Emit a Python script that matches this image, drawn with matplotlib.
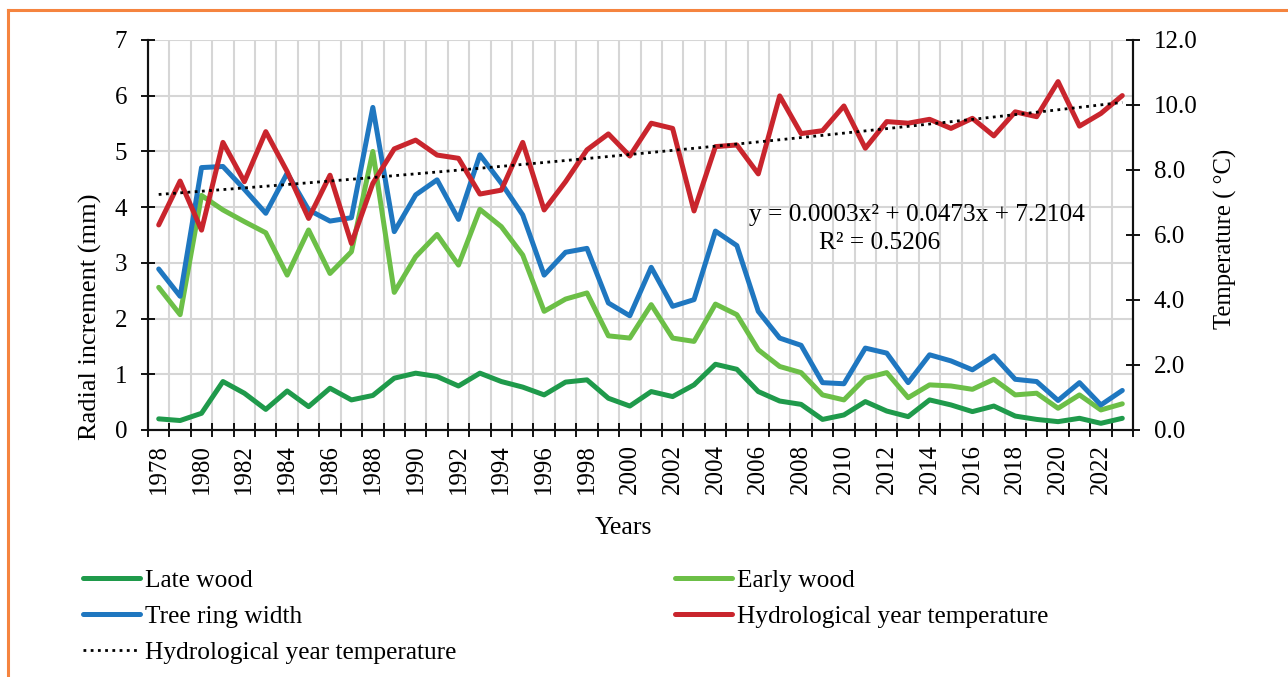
import numpy as np
import matplotlib.pyplot as plt
from matplotlib.lines import Line2D

plt.rcParams['font.family'] = ['Liberation Serif', 'DejaVu Serif']

# data
years = list(range(1978, 2024))
late_wood = [0.20, 0.17, 0.30, 0.87, 0.66, 0.37, 0.70, 0.42, 0.75, 0.54, 0.62, 0.93, 1.02, 0.96, 0.79, 1.02,
             0.87, 0.77, 0.63, 0.86, 0.90, 0.57, 0.43, 0.69, 0.60, 0.81, 1.18, 1.09, 0.69, 0.52, 0.46,
             0.19, 0.27, 0.51, 0.34, 0.24, 0.54, 0.45, 0.33, 0.43, 0.25, 0.19, 0.15, 0.21, 0.12, 0.21]
early_wood = [2.56, 2.07, 4.21, 3.95, 3.74, 3.54, 2.78, 3.59, 2.81, 3.20, 5.00, 2.47, 3.11, 3.51, 2.96, 3.96,
              3.65, 3.14, 2.13, 2.35, 2.46, 1.69, 1.65, 2.25, 1.65, 1.59, 2.26, 2.07, 1.44, 1.14, 1.03,
              0.63, 0.54, 0.93, 1.03, 0.58, 0.81, 0.79, 0.73, 0.91, 0.63, 0.66, 0.39, 0.63, 0.36, 0.47]
ring_width = [2.89, 2.40, 4.71, 4.73, 4.32, 3.89, 4.61, 3.95, 3.75, 3.81, 5.79, 3.56, 4.22, 4.49, 3.78, 4.94,
              4.43, 3.86, 2.78, 3.19, 3.26, 2.28, 2.05, 2.92, 2.22, 2.34, 3.57, 3.31, 2.13, 1.65, 1.52,
              0.85, 0.83, 1.47, 1.38, 0.85, 1.35, 1.24, 1.08, 1.33, 0.91, 0.87, 0.53, 0.85, 0.45, 0.71]
temperature = [6.31, 7.66, 6.15, 8.85, 7.64, 9.18, 7.95, 6.51, 7.84, 5.74, 7.59, 8.65, 8.92, 8.46, 8.36, 7.26,
               7.38, 8.85, 6.77, 7.64, 8.62, 9.11, 8.43, 9.44, 9.28, 6.74, 8.72, 8.77, 7.88, 10.28, 9.12,
               9.21, 9.97, 8.67, 9.49, 9.44, 9.56, 9.28, 9.59, 9.05, 9.79, 9.64, 10.72, 9.35, 9.74, 10.29]

eq_text = 'y = 0.0003x\u00b2 + 0.0473x + 7.2104'
r2_text = 'R\u00b2 = 0.5206'

c_late = '#1f9a4b'
c_early = '#6cbf47'
c_ring = '#1f77c0'
c_temp = '#c9252d'

n = len(years)
xs = np.arange(n)

# 2nd order poly trend like excel (x = 1..n)
coef = np.polyfit(xs + 1, temperature, 2)
trend = np.polyval(coef, xs + 1)

fig = plt.figure(figsize=(12.88, 6.77), dpi=100)
ax = fig.add_axes([148/1288, 1 - 430/677, 985/1288, 390/677])
ax2 = ax.twinx()

lw = 3.6
ax.plot(xs, late_wood, color=c_late, lw=lw, solid_joinstyle='round', solid_capstyle='round')
ax.plot(xs, early_wood, color=c_early, lw=lw, solid_joinstyle='round', solid_capstyle='round')
ax.plot(xs, ring_width, color=c_ring, lw=lw, solid_joinstyle='round', solid_capstyle='round')
ax2.plot(xs, temperature, color=c_temp, lw=lw, solid_joinstyle='round', solid_capstyle='round')
ax2.plot(xs, trend, color='black', lw=2.0, ls=(0, (1, 1.6)))

ax.set_xlim(-0.5, n - 0.5)
ax.set_ylim(0, 7)
ax2.set_ylim(0, 12)

fs = 18

# category axis: ticks on boundaries, labels on centres
ax.set_xticks(np.arange(n + 1) - 0.5)
ax.set_xticklabels([])
ax.set_xticks(xs[::2], minor=True)
ax.set_xticklabels([str(y) for y in years[::2]], minor=True, rotation=90, fontsize=fs)
ax.tick_params(axis='x', which='major', direction='inout', length=10, width=1.3)
ax.tick_params(axis='x', which='minor', length=0, pad=10)

ax.set_yticks(range(0, 8))
ax.tick_params(axis='y', direction='inout', length=10, width=1.3, labelsize=fs, pad=10)
ax2.set_yticks(np.arange(0, 13, 2))
ax2.set_yticklabels(['%.1f' % v for v in np.arange(0, 13, 2)])
ax2.tick_params(axis='y', direction='inout', length=10, width=1.3, labelsize=fs, pad=10)

ax.grid(True, which='major', color='#d6d6d6', lw=1.5)
ax.set_axisbelow(True)

for a in (ax, ax2):
    a.spines['top'].set_visible(False)
    for s in ('left', 'right', 'bottom'):
        a.spines[s].set_linewidth(1.5)
        a.spines[s].set_color('#111111')

ax.set_ylabel('Radial increment (mm)', fontsize=19)
ax.yaxis.set_label_coords(-0.047, 0.29)
ax2.set_ylabel('Temperature ( \u00b0C)', fontsize=17.8)
ax2.yaxis.set_label_coords(1.082, 0.49)
ax.set_xlabel('Years', fontsize=18.5)
ax.xaxis.set_label_coords(0.483, -0.222)

ax.text(0.781, 0.551, eq_text, transform=ax.transAxes, ha='center', va='center', fontsize=18.3)
ax.text(0.743, 0.479, r2_text, transform=ax.transAxes, ha='center', va='center', fontsize=18.3)

# legend, two blocks like the excel layout
left_handles = [
    Line2D([], [], color=c_late, lw=lw, solid_capstyle='round'),
    Line2D([], [], color=c_ring, lw=lw, solid_capstyle='round'),
    Line2D([], [], color='black', lw=2.0, ls=(0, (1, 1.6))),
]
left_labels = ['Late wood', 'Tree ring width', 'Hydrological year temperature']
right_handles = [
    Line2D([], [], color=c_early, lw=lw, solid_capstyle='round'),
    Line2D([], [], color=c_temp, lw=lw, solid_capstyle='round'),
]
right_labels = ['Early wood', 'Hydrological year temperature']

leg_fs = 18.3
fig.legend(left_handles, left_labels, loc='upper left', bbox_to_anchor=(83/1288, 1 - 569/677),
           frameon=False, fontsize=leg_fs, handlelength=2.25, handletextpad=0.2,
           labelspacing=0.52, borderpad=0, borderaxespad=0)
fig.legend(right_handles, right_labels, loc='upper left', bbox_to_anchor=(675/1288, 1 - 569/677),
           frameon=False, fontsize=leg_fs, handlelength=2.25, handletextpad=0.2,
           labelspacing=0.52, borderpad=0, borderaxespad=0)

# orange frame
fig.add_artist(Line2D([8/1288, 8/1288], [0, 1 - 10/677], color='#f5843f', lw=2.2,
                      transform=fig.transFigure))
fig.add_artist(Line2D([8/1288, 1], [1 - 10/677, 1 - 10/677], color='#f5843f', lw=2.2,
                      transform=fig.transFigure))

fig.savefig('out.png', dpi=100)
